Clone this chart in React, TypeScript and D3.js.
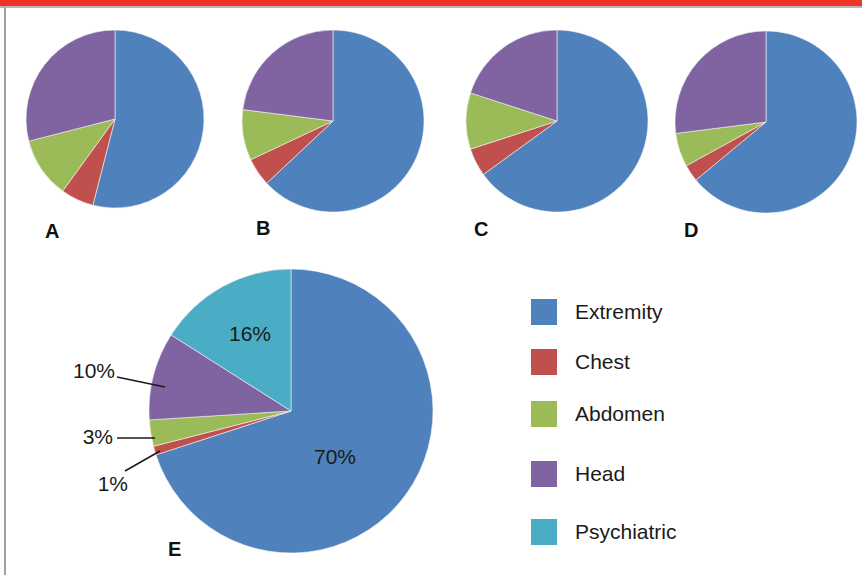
import * as d3 from 'd3'
import React from 'react'

const categories = ['Extremity', 'Chest', 'Abdomen', 'Head', 'Psychiatric']
const colors = ['#4f81bd', '#c0504d', '#9bbb59', '#8064a2', '#4bacc6']

// small panels A-D, values in percent (Extremity, Chest, Abdomen, Head)
const panelNames = ['A', 'B', 'C', 'D']
const valuesA = [54, 6, 11, 29]
const valuesB = [63, 5, 9, 23]
const valuesC = [65, 5, 10, 20]
const valuesD = [64, 3, 6, 27]

// large panel E
const valuesE = [70, 1, 3, 10, 16]
const labelsE = ['70%', '1%', '3%', '10%', '16%']

const W = 862
const H = 575
const font = '"Liberation Sans", Arial, Helvetica, sans-serif'

// layout for the small pies
const smallPanels = [
  { cx: 115, cy: 119, r: 89, lx: 45, ly: 238 },
  { cx: 333, cy: 121, r: 91, lx: 256, ly: 235 },
  { cx: 557, cy: 121, r: 91, lx: 474, ly: 236 },
  { cx: 766, cy: 122, r: 91, lx: 684, ly: 237 },
]
const bigPie = { cx: 291, cy: 411, r: 142, lx: 168, ly: 556 }

// placement of the percentage labels of E (leader lines where needed)
const labelLayout = [
  { x: 335, y: 464, anchor: 'middle', line: null },
  { x: 128, y: 491, anchor: 'end', line: [125, 471, 160, 451] },
  { x: 113, y: 444, anchor: 'end', line: [117, 438, 155, 438] },
  { x: 115, y: 378, anchor: 'end', line: [117, 377, 165, 387] },
  { x: 250, y: 341, anchor: 'middle', line: null },
]

// legend rows (vertical centres)
const legendRows = [312, 362, 414, 474, 532]

const pie = d3.pie<number>().sort(null).value((d) => d)

function Pie({ values, cx, cy, r }: { values: number[], cx: number, cy: number, r: number }) {
  const arc = d3.arc<d3.PieArcDatum<number>>().innerRadius(0).outerRadius(r)
  return (
    <g transform={`translate(${cx},${cy})`}>
      {pie(values).map((a, i) => (
        <path key={i} d={arc(a) || ''} fill={colors[i]} stroke="#f4f4f4" strokeWidth={0.6} />
      ))}
    </g>
  )
}

export default function App() {
  const smallValues = [valuesA, valuesB, valuesC, valuesD]

  return (
    <svg width={W} height={H} style={{ position: 'absolute', left: 0, top: 0, background: '#fff' }}>
      <rect x={0} y={0} width={W} height={6} fill="#ee3424" />
      <line x1={0} x2={W} y1={7} y2={7} stroke="#a0a0a0" strokeWidth={1.5} />
      <line x1={5} x2={5} y1={7} y2={H} stroke="#a0a0a0" strokeWidth={2} />

      {smallPanels.map((p, i) => (
        <g key={panelNames[i]}>
          <Pie values={smallValues[i]} cx={p.cx} cy={p.cy} r={p.r} />
          <text x={p.lx} y={p.ly} fontFamily={font} fontWeight="bold" fontSize={20} fill="#111">
            {panelNames[i]}
          </text>
        </g>
      ))}

      <Pie values={valuesE} cx={bigPie.cx} cy={bigPie.cy} r={bigPie.r} />
      <text x={bigPie.lx} y={bigPie.ly} fontFamily={font} fontWeight="bold" fontSize={20} fill="#111">
        E
      </text>

      {labelsE.map((t, i) => {
        const l = labelLayout[i]
        return (
          <g key={t}>
            {l.line && (
              <line x1={l.line[0]} y1={l.line[1]} x2={l.line[2]} y2={l.line[3]} stroke="#1a1a1a" strokeWidth={1.5} />
            )}
            <text x={l.x} y={l.y} textAnchor={l.anchor} fontFamily={font} fontSize={21} fill="#1a1a1a">
              {t}
            </text>
          </g>
        )
      })}

      {categories.map((c, i) => (
        <g key={c} transform={`translate(531,${legendRows[i]})`}>
          <rect x={0} y={-13} width={26} height={26} fill={colors[i]} />
          <text x={44} y={0} dy="0.35em" fontFamily={font} fontSize={21} fill="#1a1a1a">
            {c}
          </text>
        </g>
      ))}
    </svg>
  )
}
